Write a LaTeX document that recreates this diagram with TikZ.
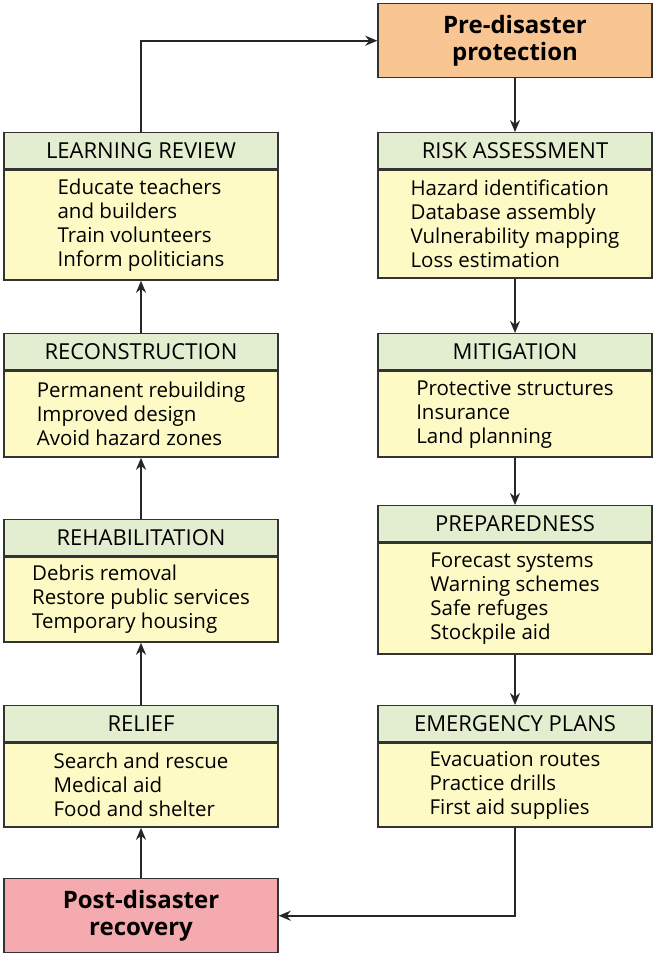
\documentclass[tikz,border=0pt]{standalone}
\usepackage{fontspec}
\setmainfont{Open Sans}
\usetikzlibrary{positioning,arrows.meta}

\definecolor{headgreen}{HTML}{E3EDD0}
\definecolor{bodyyellow}{HTML}{FEFAC6}
\definecolor{preorange}{HTML}{F9C592}
\definecolor{postpink}{HTML}{F5AAAF}
\definecolor{edge}{HTML}{333333}

\begin{document}
\begin{tikzpicture}[x=1pt, y=-1pt,
	head/.style={rectangle, draw=edge, line width=1.4pt, fill=headgreen, minimum width=274pt, minimum height=36pt, inner sep=0pt, anchor=north, font=\fontsize{22}{24}\selectfont},
	body/.style={rectangle, draw=edge, line width=1.4pt, fill=bodyyellow, minimum width=274pt, inner sep=0pt, align=left, anchor=north, font=\fontsize{20.5}{24}\selectfont},
	phase/.style={rectangle, draw=edge, line width=1.4pt, minimum width=274pt, minimum height=74pt, align=center, anchor=north, font=\fontsize{24}{27}\selectfont\bfseries},
	arrow/.style={->, >={Stealth[length=12pt, width=10pt]}, line width=2pt, draw=black!85}]
	\useasboundingbox (0,0) rectangle (655,956);

	% right column
	\node (pre) [phase, fill=preorange] at (515,3) {Pre-disaster\\protection};
	\node (riskhead) [head] at (515,132) {RISK ASSESSMENT};
	\node (risk) [body, minimum height=108pt] at (riskhead.south) {Hazard identification\\Database assembly\\Vulnerability mapping\\Loss estimation};
	\node (mitihead) [head] at (515,333) {MITIGATION};
	\node (miti) [body, minimum height=86pt] at (mitihead.south) {Protective structures\\Insurance\\Land planning};
	\node (prephead) [head] at (515,505) {PREPAREDNESS};
	\node (prep) [body, minimum height=111pt] at (prephead.south) {Forecast systems\\Warning schemes\\Safe refuges\\Stockpile aid};
	\node (emerhead) [head] at (515,705) {EMERGENCY PLANS};
	\node (emer) [body, minimum height=84pt] at (emerhead.south) {Evacuation routes\\Practice drills\\First aid supplies};

	% left column
	\node (post) [phase, fill=postpink] at (141,878) {Post-disaster\\recovery};
	\node (reliefhead) [head] at (141,705) {RELIEF};
	\node (relief) [body, minimum height=84pt] at (reliefhead.south) {Search and rescue\\Medical aid\\Food and shelter};
	\node (rehabhead) [head] at (141,519) {REHABILITATION};
	\node (rehab) [body, minimum height=85pt] at (rehabhead.south) {Debris removal\\Restore public services\\Temporary housing};
	\node (reconhead) [head] at (141,333) {RECONSTRUCTION};
	\node (recon) [body, minimum height=86pt] at (reconhead.south) {Permanent rebuilding\\Improved design\\Avoid hazard zones};
	\node (learnhead) [head] at (141,132) {LEARNING REVIEW};
	\node (learn) [body, minimum height=110pt] at (learnhead.south) {Educate teachers\\and builders\\Train volunteers\\Inform politicians};

	\draw [arrow] (pre) -- (riskhead);
	\draw [arrow] (risk) -- (mitihead);
	\draw [arrow] (miti) -- (prephead);
	\draw [arrow] (prep) -- (emerhead);
	\draw [arrow] (emer.south) |- (post.east);
	\draw [arrow] (post) -- (relief);
	\draw [arrow] (reliefhead) -- (rehab);
	\draw [arrow] (rehabhead) -- (recon);
	\draw [arrow] (reconhead) -- (learn);
	\draw [arrow] (learnhead.north) |- (pre.west);

	\end{tikzpicture}
\end{document}
